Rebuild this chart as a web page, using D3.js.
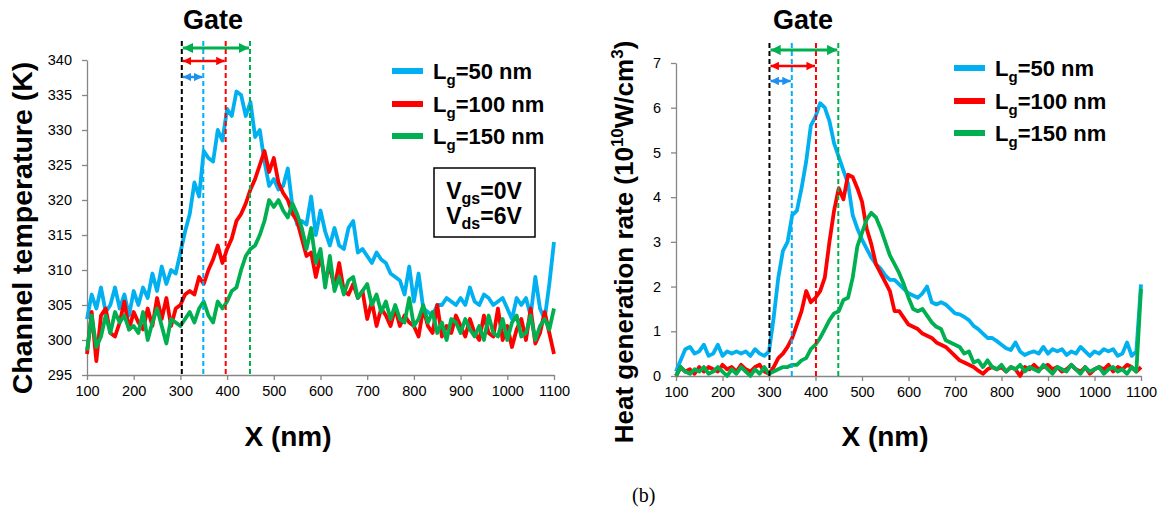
<!DOCTYPE html>
<html>
<head>
<meta charset="utf-8">
<script src="https://cdnjs.cloudflare.com/ajax/libs/d3/7.8.5/d3.min.js"></script>
<style>
body { margin: 0; background: #fff; }
text { font-family: "Liberation Sans", Arial, sans-serif; }
</style>
</head>
<body>
<svg id="fig" width="1161" height="510"></svg>
<script>
// x positions along the channel (nm)
var xNm = [100,110,120,130,140,150,160,170,180,190,200,210,220,230,240,250,260,270,280,290,
  300,310,320,330,340,350,360,370,380,390,400,410,420,430,440,450,460,470,480,490,
  500,510,520,530,540,550,560,570,580,590,600,610,620,630,640,650,660,670,680,690,
  700,710,720,730,740,750,760,770,780,790,800,810,820,830,840,850,860,870,880,890,
  900,910,920,930,940,950,960,970,980,990,1000,1010,1020,1030,1040,1050,1060,1070,1080,1090,1100];
var xTicks = [100,200,300,400,500,600,700,800,900,1000,1100];

// (a) channel temperature (K)
var tempBlue = [303,306.5,304.5,307.5,304,305,307.5,304.5,306.5,303.5,307,305,307.5,306,309.5,307,310.5,308,310,309.5,
  312.5,315.5,318,322.5,320.5,327,326,325.5,330,328.5,333,332,335.5,335,332,334,329,330,325.5,322,
  323,321.5,322,324.5,319,316.5,317,316.5,320.5,315,318.5,315.5,313.5,316,313.5,313,316,317,312.5,313,
  312,311,312.5,311.5,311,309.5,309,308.5,306.5,310.5,305.5,309.5,304.5,304,303.5,305,305,306,305.5,305,
  306,305,307.5,305.5,305,306.5,306,305,305.5,306,304.5,303,306,305,306,303.5,309,304.5,303,308,314];
var tempRed = [298,304,297,303.5,304.5,301,300.5,302.5,305.5,301.5,304,302.5,301.5,304.5,302,306,303,306,302,304.5,
  305,306.5,307,306.5,309,308,310,311.5,313.5,311,313,314.5,317,318,319.5,321.5,323,325,327,324,
  326,322.5,321,320,318,317,314.5,312,312.5,309,312,308.5,310.5,307.5,311,307,306.5,308,306,307,
  303,305.5,302,304.5,303.5,302,304.5,302,303.5,302.5,302,300.5,304.5,302,301,305,300.5,302,301,303.5,
  302,300.5,303,301,300,303.5,301,300.5,304.5,300,302,299,301.5,303,300,304.5,299.5,301,304,301,298];
var tempGreen = [298.5,303.5,299,300.5,303.5,301,304,302.5,303.5,301.5,302,301,304,300,302.5,304.5,302,299.5,303,302.5,
  302,303,304,302.5,304.5,305.5,303.5,302.5,305.5,304.5,305.5,307,307.5,310,312,313,313.5,315,317,320,
  319,320,318.5,317.5,319.5,318,316,313,316,311,313,307.5,312,307,309,306.5,308.5,309,306,307,
  308,305,306.5,304,305.5,303,305,303,302.5,306,302,303,305,302.5,304,301,302.5,300,303,302.5,
  301,303,301.5,300.5,302,300,303.5,301,300.5,303,300,302.5,303.5,300.5,301,303.5,300,302,303,301.5,304.5];
var tempTicks = [295,300,305,310,315,320,325,330,335,340];

// (b) heat generation rate (1e10 W/cm3)
var heatBlue = [0.1,0.35,0.6,0.65,0.5,0.55,0.7,0.45,0.5,0.7,0.45,0.55,0.5,0.55,0.5,0.55,0.45,0.6,0.5,0.45,
  0.55,1.3,2.2,2.8,3.0,3.6,3.7,4.2,4.8,5.6,5.8,6.1,6.0,5.7,5.2,4.9,4.6,4.3,3.6,3.3,
  3.05,2.85,2.65,2.5,2.4,2.25,2.15,2.15,2.05,1.95,1.85,1.8,1.75,1.85,2.0,1.65,1.6,1.65,1.6,1.5,
  1.4,1.38,1.32,1.25,1.12,1.05,0.95,0.85,0.85,0.78,0.7,0.62,0.58,0.75,0.55,0.47,0.52,0.55,0.5,0.65,
  0.5,0.6,0.55,0.6,0.47,0.55,0.5,0.65,0.55,0.45,0.55,0.5,0.6,0.55,0.6,0.45,0.5,0.75,0.45,0.55,2.05];
var heatRed = [0,0.2,0.1,0.15,0.05,0.2,0.1,0.2,0.15,0.1,0.25,0.15,0.2,0.1,0.25,0.15,0.1,0.2,0.25,0.1,
  0.05,0.2,0.4,0.5,0.65,0.85,1.15,1.45,1.9,1.65,1.75,1.9,2.2,3.0,3.7,4.2,3.95,4.5,4.45,4.2,
  3.9,3.3,2.95,2.5,2.3,2.1,1.9,1.45,1.45,1.3,1.15,1.1,1.05,0.95,0.9,0.85,0.75,0.7,0.65,0.55,
  0.45,0.35,0.3,0.25,0.2,0.12,0.05,0.15,0.2,0.15,0.2,0.1,0.2,0.15,0,0.2,0.15,0.25,0.15,0.2,
  0.25,0.15,0.2,0.1,0.15,0.25,0.15,0.1,0.2,0.05,0.15,0.2,0.15,0.25,0.1,0.2,0.15,0.25,0.2,0.1,0.2];
var heatGreen = [0,0.2,0.1,0.05,0.15,0.1,0.2,0.05,0.1,0.2,0.1,0,0.15,0.05,0.2,0.1,0,0.15,0.05,0.2,
  0.05,0.1,0.15,0.2,0.2,0.25,0.25,0.35,0.4,0.6,0.7,0.85,1.05,1.25,1.4,1.45,1.7,1.75,2.2,2.9,
  3.2,3.5,3.65,3.55,3.3,3.0,2.7,2.5,2.3,2.05,1.75,1.5,1.45,1.5,1.35,1.2,1.1,1.05,0.8,0.75,
  0.7,0.65,0.5,0.55,0.3,0.35,0.2,0.35,0.2,0.15,0.25,0.1,0.2,0.15,0.25,0.1,0.2,0.15,0.1,0.25,
  0.15,0.05,0.2,0.15,0.1,0.25,0.15,0.05,0.2,0.1,0.15,0.2,0.05,0.15,0.2,0.1,0.15,0.05,0.2,0.1,1.95];
var heatTicks = [0,1,2,3,4,5,6,7];

// legend / gate edges: source edge, then drain edge for Lg = 50, 100, 150 nm
var legendLg = ["50 nm", "100 nm", "150 nm"];
var gateEdgesA = [303, 349, 397, 449];
var gateEdgesB = [301, 349, 401, 449];

var colors = ["#00B0F0", "#FF0000", "#00B050"];
var arrowColors = ["#1E90F0", "#FF0000", "#00B050"];
var dashColors = ["#000000", "#00B0F0", "#FF0000", "#00B050"];

var svg = d3.select("#fig");
var defs = svg.append("defs");
arrowColors.forEach(function(c, k){
  defs.append("marker")
    .attr("id", "ah" + k)
    .attr("viewBox", "0 0 10 10")
    .attr("refX", 10).attr("refY", 5)
    .attr("markerWidth", 3.4).attr("markerHeight", 3.4)
    .attr("orient", "auto-start-reverse")
    .append("path").attr("d", "M0,0L10,5L0,10z").attr("fill", c);
});

function drawPanel(p) {
  var x = d3.scaleLinear().domain([100, 1100]).range([p.left, p.right]);
  var y = d3.scaleLinear().domain(p.yDomain).range([p.bottom, p.top]);
  var g = svg.append("g");

  var xa = g.append("g")
    .attr("transform", "translate(0," + p.bottom + ")")
    .call(d3.axisBottom(x).tickValues(xTicks).tickFormat(d3.format("d"))
      .tickSize(5).tickPadding(6).tickSizeOuter(0));
  var ya = g.append("g")
    .attr("transform", "translate(" + p.left + ",0)")
    .call(d3.axisLeft(y).tickValues(p.yTicks).tickFormat(d3.format("d"))
      .tickSize(5).tickPadding(10).tickSizeOuter(0));
  [xa, ya].forEach(function(a){
    a.select(".domain").attr("stroke", "#868686").attr("stroke-width", 1.3);
    a.selectAll(".tick line").attr("stroke", "#868686").attr("stroke-width", 1.3);
    a.selectAll(".tick text").attr("fill", "#000").style("font-size", "14.5px")
      .style("font-family", "'Liberation Sans', Arial, sans-serif");
  });

  var line = d3.line()
    .x(function(d, i){ return x(xNm[i]); })
    .y(function(d){ return y(d); });

  p.series.forEach(function(s, k){
    g.append("path")
      .attr("d", line(s))
      .attr("fill", "none")
      .attr("stroke", colors[k])
      .attr("stroke-width", 3.8)
      .attr("stroke-linejoin", "round");
  });

  // gate edges
  p.gate.forEach(function(v, k){
    g.append("line")
      .attr("x1", x(v)).attr("x2", x(v))
      .attr("y1", p.dashTop).attr("y2", p.bottom)
      .attr("stroke", dashColors[k])
      .attr("stroke-width", 2)
      .attr("stroke-dasharray", "5,3");
  });
  for (var k = 1; k < p.gate.length; k++) {
    g.append("line")
      .attr("x1", x(p.gate[0]) + 1).attr("x2", x(p.gate[k]) - 1)
      .attr("y1", p.arrowY[k - 1]).attr("y2", p.arrowY[k - 1])
      .attr("stroke", arrowColors[k - 1])
      .attr("stroke-width", k == 3 ? 3 : 2.5)
      .attr("marker-start", "url(#ah" + (k - 1) + ")")
      .attr("marker-end", "url(#ah" + (k - 1) + ")");
  }

  g.append("text")
    .attr("x", p.gateX).attr("y", 29)
    .attr("text-anchor", "middle")
    .style("font-size", "27px").style("font-weight", "bold")
    .text("Gate");

  // legend
  legendLg.forEach(function(lab, k){
    var ly = p.legY[k];
    g.append("line")
      .attr("x1", p.legX).attr("x2", p.legX + 31)
      .attr("y1", ly).attr("y2", ly)
      .attr("stroke", colors[k]).attr("stroke-width", 6);
    var t = g.append("text")
      .attr("x", p.legX + 41).attr("y", ly + 8)
      .style("font-size", "22px").style("font-weight", "bold");
    t.append("tspan").text("L");
    t.append("tspan").attr("dy", 6).style("font-size", "15px").text("g");
    t.append("tspan").attr("dy", -6).text("=" + lab);
  });

  // axis titles
  g.append("text")
    .attr("x", p.xTitleX).attr("y", 446)
    .attr("text-anchor", "middle")
    .style("font-size", "28px").style("font-weight", "bold")
    .text("X (nm)");

  var yt = g.append("text")
    .attr("transform", "translate(" + p.yTitleX + "," + p.yTitleY + ") rotate(-90)")
    .attr("text-anchor", "middle")
    .style("font-size", p.yTitleSize).style("font-weight", "bold");
  p.yTitle(yt);
}

drawPanel({
  left: 87, right: 554, top: 60, bottom: 375,
  yDomain: [295, 340], yTicks: tempTicks,
  series: [tempBlue, tempRed, tempGreen],
  gate: gateEdgesA, dashTop: 41, arrowY: [77, 61, 48],
  gateX: 213, legX: 392, legY: [71, 104, 136],
  xTitleX: 288, yTitleX: 32, yTitleY: 228, yTitleSize: "28.5px",
  yTitle: function(t){ t.text("Channel temperature (K)"); }
});

drawPanel({
  left: 676, right: 1141, top: 63, bottom: 376,
  yDomain: [0, 7], yTicks: heatTicks,
  series: [heatBlue, heatRed, heatGreen],
  gate: gateEdgesB, dashTop: 43, arrowY: [81, 66, 50],
  gateX: 803, legX: 954, legY: [68, 101, 133],
  xTitleX: 885, yTitleX: 633, yTitleY: 242, yTitleSize: "26px",
  yTitle: function(t){
    t.append("tspan").text("Heat generation rate (10");
    t.append("tspan").attr("dy", -10).style("font-size", "17px").text("10");
    t.append("tspan").attr("dy", 10).text("W/cm");
    t.append("tspan").attr("dy", -10).style("font-size", "17px").text("3");
    t.append("tspan").attr("dy", 10).text(")");
  }
});

// V bias box on panel (a)
svg.append("rect")
  .attr("x", 434).attr("y", 168).attr("width", 101).attr("height", 69)
  .attr("fill", "#fff").attr("stroke", "#000").attr("stroke-width", 1.5);
[["gs", "=0V", 199], ["ds", "=6V", 224]].forEach(function(r){
  var t = svg.append("text")
    .attr("x", 484).attr("y", r[2])
    .attr("text-anchor", "middle")
    .style("font-size", "23px").style("font-weight", "bold");
  t.append("tspan").text("V");
  t.append("tspan").attr("dy", 5).style("font-size", "16px").text(r[0]);
  t.append("tspan").attr("dy", -5).text(r[1]);
});

svg.append("text")
  .attr("x", 632).attr("y", 502)
  .style("font-family", "'Liberation Serif', 'Times New Roman', serif")
  .style("font-size", "20px")
  .text("(b)");
</script>
</body>
</html>
